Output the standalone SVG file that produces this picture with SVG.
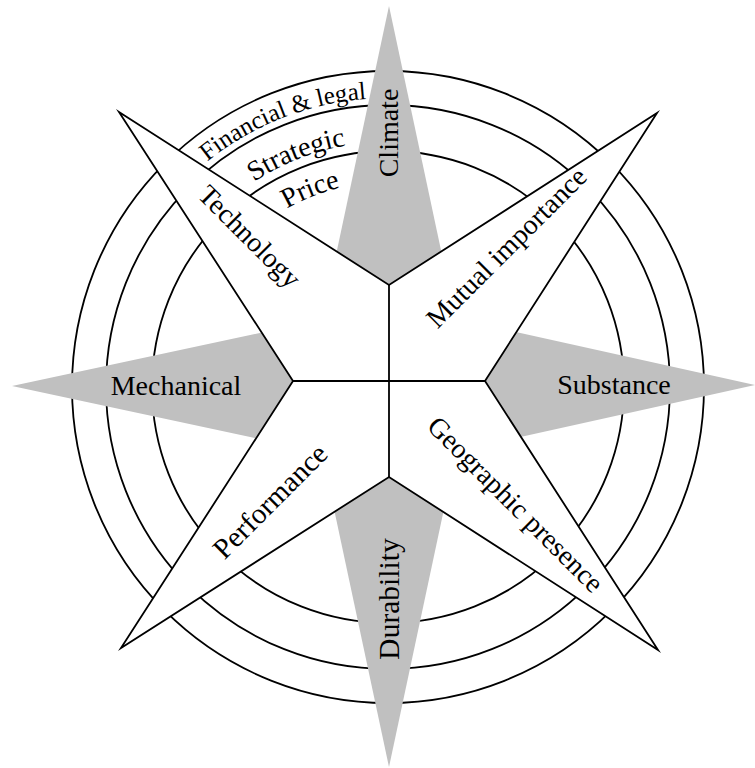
<svg xmlns="http://www.w3.org/2000/svg" width="755" height="768" viewBox="0 0 755 768">
  <style>
    .ring { fill: none; stroke: #000; stroke-width: 1.8; }
    .ray { fill: #c0c0c0; stroke: none; }
    .star { fill: #fff; stroke: #000; stroke-width: 1.8; stroke-linejoin: miter; stroke-miterlimit: 20; }
    .axis { stroke: #000; stroke-width: 1.8; fill: none; }
    .lbl { font-family: "Liberation Serif", "Times New Roman", serif; font-size: 28px; fill: #000; text-anchor: middle; }
    .ringlbl { font-family: "Liberation Serif", "Times New Roman", serif; fill: #000; text-anchor: middle; }
  </style>
  <defs>
    <path id="arcPrice" d="M185.25,356.70 A205,205 0 0 1 515.61,226.56"/>
    <path id="arcStrategic" d="M145.69,350.79 A245,245 0 0 1 540.51,195.26"/>
    <path id="arcFinancial" d="M102.17,344.28 A289,289 0 0 1 567.91,160.83"/>
  </defs>

  <rect width="755" height="768" fill="#fff"/>

  <!-- concentric rings -->
  <g id="rings">
    <circle class="ring" cx="388" cy="387" r="236"/>
    <circle class="ring" cx="388" cy="387" r="282"/>
    <circle class="ring" cx="388" cy="387" r="316"/>
  </g>

  <!-- grey compass points (N, E, S, W) -->
  <g id="grey-points">
    <polygon class="ray" points="389,6 451.6,300 326.4,300"/>
    <polygon class="ray" points="755,385 472,447.8 472,322.2"/>
    <polygon class="ray" points="389,767 324,462 454,462"/>
    <polygon class="ray" points="12,386 305,323.3 305,448.7"/>
  </g>

  <!-- white four-pointed star (diagonals) -->
  <g id="star">
    <polygon class="star" points="119,112 389,285 657,113 485,381 658,650 389,477 121,648 293,381"/>
  </g>

  <!-- central cross -->
  <g id="connectors">
    <line class="axis" x1="389" y1="285" x2="389" y2="477"/>
    <line class="axis" x1="293" y1="381" x2="485" y2="381"/>
  </g>

  <!-- ring labels -->
  <g id="ring-price">
    <text class="ringlbl" font-size="28"><textPath href="#arcPrice" startOffset="50%">Price</textPath></text>
  </g>
  <g id="ring-strategic">
    <text class="ringlbl" font-size="28"><textPath href="#arcStrategic" startOffset="50%">Strategic</textPath></text>
  </g>
  <g id="ring-financial">
    <text class="ringlbl" font-size="25"><textPath href="#arcFinancial" startOffset="50%">Financial &amp; legal</textPath></text>
  </g>

  <!-- point labels -->
  <g id="node-climate">
    <text class="lbl" transform="translate(398,133) rotate(-90)">Climate</text>
  </g>
  <g id="node-durability">
    <text class="lbl" font-size="29.5" transform="translate(399,599) rotate(-90)" style="font-size:29.5px">Durability</text>
  </g>
  <g id="node-mechanical">
    <text class="lbl" x="176" y="395">Mechanical</text>
  </g>
  <g id="node-substance">
    <text class="lbl" x="614" y="394">Substance</text>
  </g>
  <g id="node-technology">
    <text class="lbl" transform="translate(243,243) rotate(45)">Technology</text>
  </g>
  <g id="node-mutual">
    <text class="lbl" transform="translate(513,254) rotate(-45)">Mutual importance</text>
  </g>
  <g id="node-geographic">
    <text class="lbl" transform="translate(509,511) rotate(45)">Geographic presence</text>
  </g>
  <g id="node-performance">
    <text class="lbl" transform="translate(277,508) rotate(-45)" style="font-size:29px">Performance</text>
  </g>
</svg>
